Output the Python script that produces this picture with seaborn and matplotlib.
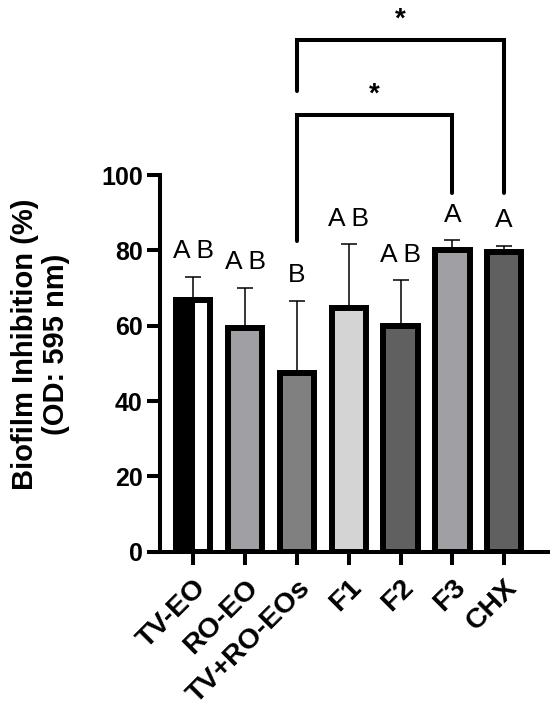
import matplotlib
matplotlib.use("Agg")
import matplotlib.pyplot as plt
import matplotlib.patches as mpatches
import seaborn as sns
import pandas as pd

# values
groups = ["TV-EO", "RO-EO", "TV+RO-EOs", "F1", "F2", "F3", "CHX"]
means = [66.8, 59.3, 47.5, 64.6, 59.9, 80.0, 79.5]
sds = [6.2, 10.8, 19.2, 17.0, 12.2, 2.7, 1.7]
letters = ["A B", "A B", "B", "A B", "A B", "A", "A"]
bar_colors = ["#000000", "#a0a0a4", "#808080", "#d4d4d4", "#606060", "#a0a0a4", "#606060"]

# significance brackets (group index from, to, bar height, leg ends)
bracket_from = [2, 2]
bracket_to = [5, 6]
bracket_y = [116, 136]
bracket_left_end = [82.6, 122.4]
bracket_right_end = [95.3, 95.3]
bracket_text = ["*", "*"]

sns.set_style("ticks")
plt.rcParams["font.family"] = ["Liberation Sans", "DejaVu Sans"]
for key in ["text.color", "axes.labelcolor", "xtick.color", "ytick.color", "axes.edgecolor"]:
    plt.rcParams[key] = "black"

df = pd.DataFrame({"group": groups, "mean": means})

fig = plt.figure(figsize=(5.5, 7.11), dpi=100)
ax = fig.add_axes([0.291, 0.224, 0.705, 0.776])

sns.barplot(data=df, x="group", y="mean", hue="group", palette=bar_colors,
            legend=False, width=0.66, edgecolor="black", linewidth=4.3,
            errorbar=None, ax=ax, zorder=3)

# TV-EO bar has a white strip on its right half
p = ax.patches[0]
x0, w, h = p.get_x(), p.get_width(), p.get_height()
ax.add_patch(mpatches.Rectangle((x0 + w * 0.56, 0), w * 0.44, h,
                                facecolor="white", edgecolor="none", zorder=4))
ax.add_patch(mpatches.Rectangle((x0, 0), w, h, facecolor="none",
                                edgecolor="black", linewidth=4.3, zorder=5))

xs = list(range(len(groups)))
ax.errorbar(xs, means, yerr=[[0] * len(sds), sds], fmt="none", ecolor="black",
            elinewidth=1.1, capsize=5.5, capthick=1.1, zorder=2)

for i, (m, s, lab) in enumerate(zip(means, sds, letters)):
    ax.text(i, m + s + 6.8, lab, ha="center", va="center", fontsize=19)

for a, b, y, yl, yr, t in zip(bracket_from, bracket_to, bracket_y,
                              bracket_left_end, bracket_right_end, bracket_text):
    ax.plot([a, a, b, b], [yl, y, y, yr], color="black", lw=2.9,
            solid_joinstyle="miter", clip_on=False, zorder=6)
    ax.text((a + b) / 2, y + 1.8, t, ha="center", va="bottom",
            fontsize=20, fontweight="bold")

ax.set_xlim(-0.64, 6.84)
ax.set_ylim(0, 146.5)
ax.set_yticks([0, 20, 40, 60, 80, 100])
ax.spines["left"].set_bounds(0, 100)
sns.despine(ax=ax)
for side in ["left", "bottom"]:
    ax.spines[side].set_linewidth(2.9)
ax.tick_params(axis="both", width=2.9, length=9.5, labelsize=18, pad=3)
ax.tick_params(axis="x", pad=7)
for lbl in ax.get_yticklabels():
    lbl.set_fontweight("bold")
ax.set_xticks(xs)
ax.set_xticklabels(groups, rotation=45, ha="right", rotation_mode="anchor",
                   fontweight="bold", fontsize=20.5)
ax.set_xlabel("")
ax.set_ylabel("Biofilm Inhibition (%)\n(OD: 595 nm)", fontsize=21,
              fontweight="bold", linespacing=1.15)
ax.yaxis.set_label_coords(-0.232, 55 / 146.5)

fig.savefig("out.png", dpi=100)
